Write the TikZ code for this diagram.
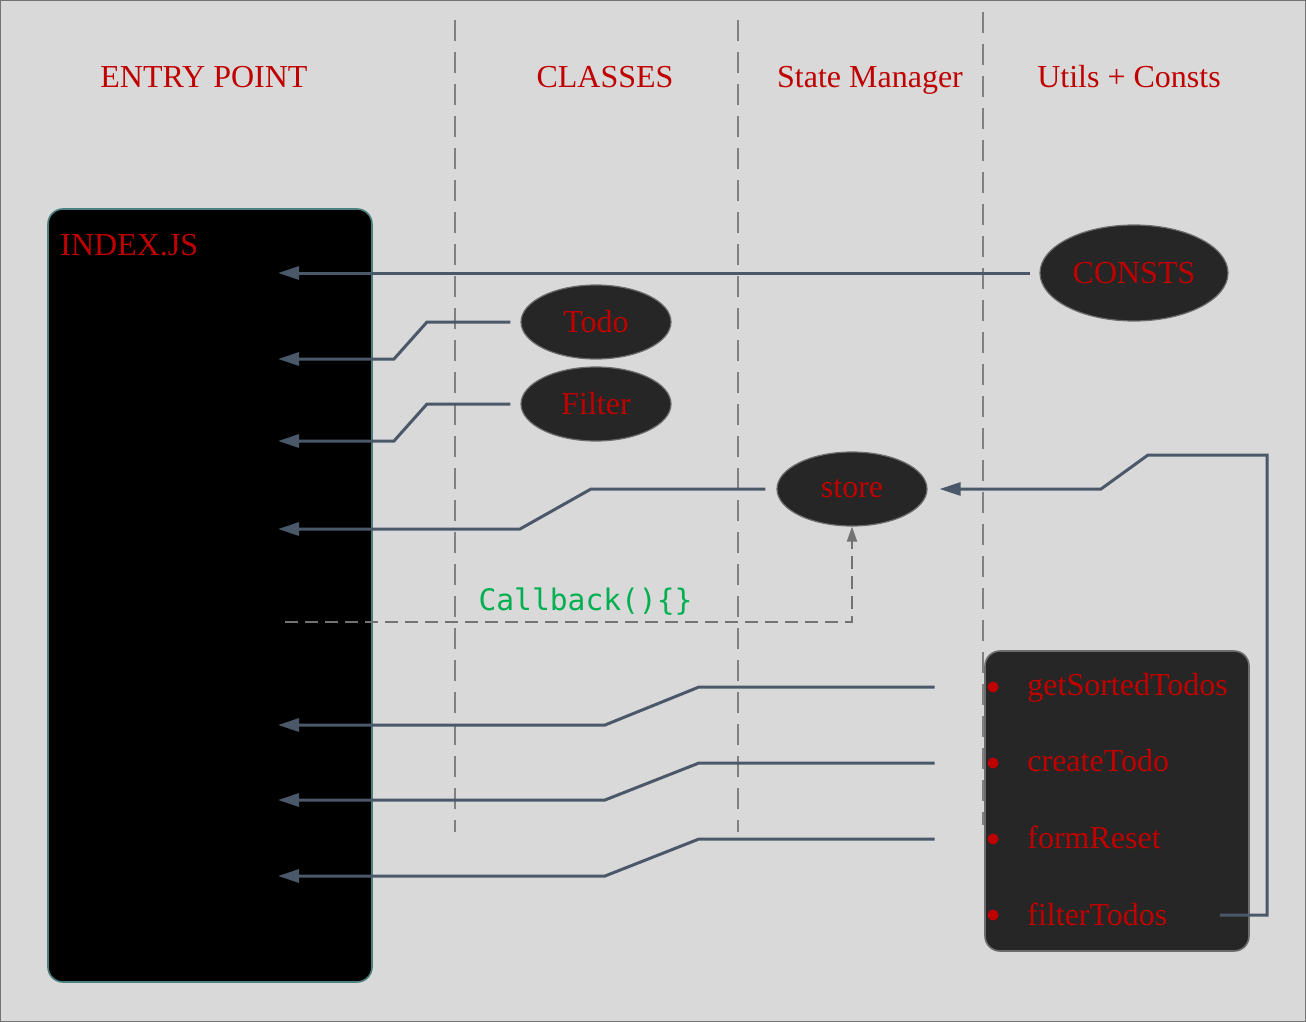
\documentclass[tikz,border=0pt]{standalone}
\usepackage{fontspec}
\setmainfont{Liberation Serif}
\setmonofont{DejaVu Sans Mono}
\usetikzlibrary{shapes.geometric,arrows.meta}

\definecolor{bggray}{HTML}{D9D9D9}
\definecolor{codered}{HTML}{C00000}
\definecolor{linkblue}{HTML}{4B5869}
\definecolor{cbgreen}{HTML}{00B050}
\definecolor{darkfill}{HTML}{262626}

\tikzset{
  heading/.style={anchor=base, text=codered, inner sep=0pt},
  lane/.style={draw=gray, line width=0.6pt, dash pattern=on 10.5pt off 5.5pt},
  oval/.style={ellipse, draw=gray!85!black, line width=0.6pt, fill=darkfill, text=codered,
    minimum width=75pt, minimum height=37pt, inner sep=0pt},
  item/.style={anchor=base west, text=codered, inner sep=0pt},
  dot/.style={circle, fill=codered, minimum size=5.5pt, inner sep=0pt},
  link/.style={draw=linkblue, line width=1.5pt, -{Triangle[length=10.5pt,width=6.5pt]}},
  callback/.style={draw=gray!90!black, line width=1pt, dash pattern=on 6.5pt off 3.5pt,
    -{Triangle[length=7.5pt,width=5pt]}}
}

\begin{document}
\begin{tikzpicture}[x=0.5pt, y=-0.5pt, font=\fontsize{16}{19}\selectfont]
    \useasboundingbox (0,0) rectangle (1306,1022);
    \draw[fill=bggray, draw=gray!90!black, line width=0.5pt] (0.5,0.5) rectangle (1305.5,1021.5);

    % columns
    \draw[lane] (455,20) -- (455,832);
    \draw[lane] (738,20) -- (738,832);
    \draw[lane] (983,12) -- (983,825);

    \node[heading] (hEntry) at (204,88) {ENTRY POINT};
    \node[heading] (hClasses) at (605,88) {CLASSES};
    \node[heading] (hState) at (870,88) {State Manager};
    \node[heading] (hUtils) at (1129,88) {Utils + Consts};

    % entry point
    \node[draw=gray!60!teal, line width=0.8pt, fill=black, rounded corners=7.5pt,
          minimum width=162pt, minimum height=386.5pt] (index) at (210,595.5) {};
    \node[item] (indexLbl) at (60,255) {INDEX.JS};

    % modules
    \node[oval, minimum width=94pt, minimum height=48pt] (consts) at (1134,273) {CONSTS};
    \node[oval] (todo) at (596,322) {Todo};
    \node[oval] (filter) at (596,404) {Filter};
    \node[oval] (store) at (852,489) {store};

    \node[draw=gray!85!black, line width=0.8pt, fill=darkfill, rounded corners=7.5pt,
          minimum width=132pt, minimum height=150pt] (utils) at (1117,801) {};
    \node[dot] (d1) at (993,687) {};
    \node[dot] (d2) at (993,763) {};
    \node[dot] (d3) at (993,839) {};
    \node[dot] (d4) at (993,915) {};
    \node[item] (sorted) at (1027,695) {getSortedTodos};
    \node[item] (create) at (1027,771) {createTodo};
    \node[item] (reset) at (1027,848) {formReset};
    \node[item] (filterT) at (1027,925) {filterTodos};

    % arrow ends inside index.js
    \coordinate (inConsts) at (278,273);
    \coordinate (inTodo) at (278,359);
    \coordinate (inFilter) at (278,441);
    \coordinate (inStore) at (278,529);
    \coordinate (inSorted) at (278,725);
    \coordinate (inCreate) at (278,800);
    \coordinate (inReset) at (278,876);
    \coordinate (cbStart) at (285,622);

    % imports
    \draw[link, shorten <=4.5pt] (consts.west) -- (inConsts);
    \draw[link, shorten <=5pt] (todo.west) -- (427,322) -- (394,359) -- (inTodo);
    \draw[link, shorten <=5pt] (filter.west) -- (427,404) -- (394,441) -- (inFilter);
    \draw[link, shorten <=5.5pt] (store.west) -- (591,489) -- (520,529) -- (inStore);
    \draw[link, shorten <=26.25pt] (d1.west) -- (699,687) -- (605,725) -- (inSorted);
    \draw[link, shorten <=26.25pt] (d2.west) -- (699,763) -- (605,800) -- (inCreate);
    \draw[link, shorten <=26.25pt] (d3.west) -- (699,839) -- (605,876) -- (inReset);
    \draw[link, shorten <=26pt, shorten >=6pt] (filterT.east |- d4) -- (1267,915) -- (1267,455)
        -- (1148,455) -- (1101,489) -- (store.east);

    % callback
    \draw[callback] (cbStart) -| node[pos=0.265, above=-0.5pt, text=cbgreen, font=\ttfamily\fontsize{14.8}{18}\selectfont] (cbLbl) {Callback()\{\}} (store.south);
\end{tikzpicture}
\end{document}
